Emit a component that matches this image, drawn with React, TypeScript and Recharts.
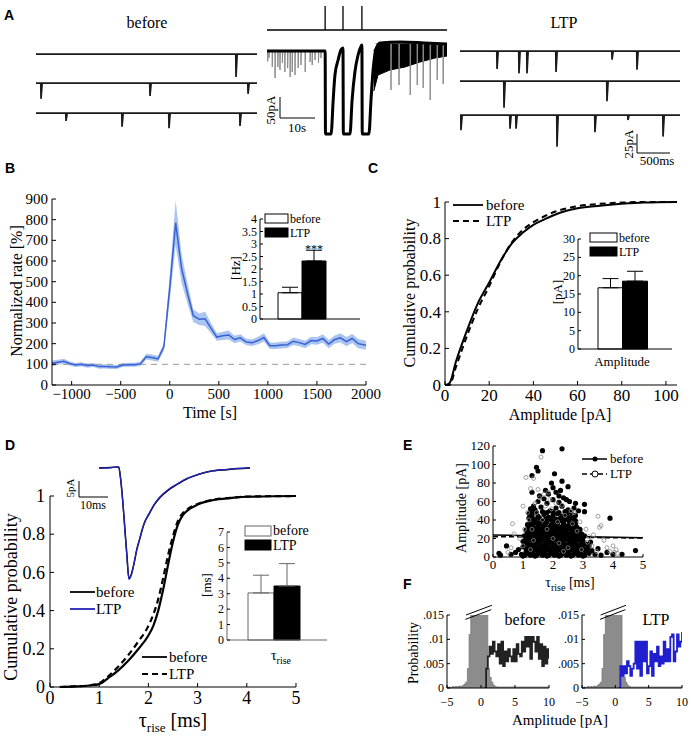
import React from "react"
import {
  LineChart,
  Line,
  Area,
  ComposedChart,
  BarChart,
  Bar,
  Cell,
  ErrorBar,
  LabelList,
  Scatter,
  XAxis,
  YAxis,
  ReferenceLine,
} from "recharts"

const SERIF = '"Liberation Serif", "Times New Roman", serif'
const SANS = '"Liberation Sans", Arial, sans-serif'

// ---------- A: example traces (events as [time ms, amplitude pA]) ----------
const ROW_MS = 3350
const beforeRow1 = [[3032, 32]]
const beforeRow2 = [[76, 22], [1728, 18], [3214, 15]]
const beforeRow3 = [[455, 11], [1304, 19], [2016, 21], [3092, 18]]
const ltpRow1 = [[564, 25], [898, 31], [1020, 31], [1462, 29], [2315, 12], [2695, 26]]
const ltpRow2 = [[670, 37], [2238, 28]]
const ltpRow3 = [[15, 21], [761, 19], [853, 19], [1477, 44], [2055, 24], [2558, 7], [3092, 30]]

// middle trace (time s, current pA)
const MID_END = 51.4
const stimTimes = [16.6, 21.7, 27.1]
const midT = [0, 16.6, 16.7, 18.3, 18.9, 19.4, 20.3, 21.1, 21.7, 21.8, 23.7, 24.3, 25.1, 26.0, 26.9, 27.1, 27.2, 29.1, 29.7, 30.3, 31.1, 32.3, 38, 45, 51.4]
const midI = [0, 0, -166, -166, -98, -48, -18, 2, 6, -166, -166, -98, -42, -8, 10, 12, -166, -166, -98, -38, 2, 16, 18, 16, 14]
const preEvents = [[0.2, 21], [0.57, 14], [1.5, 32], [2.3, 54], [3.1, 32], [3.7, 38], [4.4, 24], [5.1, 42], [5.9, 34], [6.6, 52], [7.2, 42], [8.0, 48], [8.9, 34], [9.7, 28], [10.9, 42], [12.3, 22], [12.9, 28], [13.7, 18], [14.7, 24], [15.4, 14]]
const lateEvents = [[35.4, 93], [37.7, 83], [40.9, 103], [42.9, 83], [44.6, 89], [46.6, 113], [48.6, 73], [50.3, 81]]
const denseT = [30.5, 31.7, 35.1, 39.4, 43.7, 48, 51.4]
const denseLo = [-80, -48, -38, -32, -22, -14, -10]
const denseHi = [0, 16, 18, 18, 16, 14, 14]

// ---------- B: normalized rate ----------
const bTime = [-1200, -1140, -1080, -1020, -960, -900, -840, -780, -720, -660, -600, -540, -480, -420, -360, -300, -240, -180, -120, -60, 0, 60, 120, 180, 240, 300, 360, 420, 480, 540, 600, 660, 720, 780, 840, 900, 960, 1020, 1080, 1140, 1200, 1260, 1320, 1380, 1440, 1500, 1560, 1620, 1680, 1740, 1800, 1860, 1920, 2000]
const bRate = [105, 110, 115, 104, 97, 100, 94, 97, 89, 90, 88, 87, 97, 98, 98, 102, 137, 133, 126, 185, 470, 785, 565, 445, 335, 318, 320, 275, 232, 238, 242, 220, 228, 208, 205, 215, 230, 190, 190, 193, 195, 212, 205, 196, 215, 213, 225, 198, 220, 228, 210, 225, 200, 192]
const bSem = [14, 12, 12, 10, 10, 10, 10, 10, 10, 10, 10, 10, 10, 10, 10, 10, 14, 14, 14, 18, 60, 110, 70, 50, 30, 28, 35, 25, 18, 20, 22, 18, 18, 16, 16, 18, 20, 16, 16, 16, 16, 18, 18, 18, 18, 18, 20, 20, 20, 22, 22, 22, 22, 22]
const groups = ["before", "LTP"]
const rateHz = [1.05, 2.32]
const rateErr = [0.22, 0.43]
const rateSig = ["", "***"]

// ---------- C: amplitude cumulative ----------
const cAmp = [0, 2, 5, 10, 15, 20, 25, 30, 35, 40, 45, 50, 55, 60, 70, 80, 90, 105]
const cBefore = [0, 0.01, 0.13, 0.3, 0.45, 0.56, 0.675, 0.77, 0.83, 0.875, 0.905, 0.932, 0.952, 0.966, 0.98, 0.99, 0.997, 1]
const cLtp = [0, 0, 0.1, 0.27, 0.42, 0.54, 0.67, 0.775, 0.845, 0.89, 0.922, 0.948, 0.965, 0.977, 0.99, 0.997, 1, 1]
const ampPA = [16.7, 18.5]
const ampErr = [2.5, 2.7]

// ---------- D: rise time cumulative ----------
const dTau = [0.2, 0.5, 0.8, 1.0, 1.2, 1.4, 1.6, 1.8, 2.0, 2.1, 2.2, 2.3, 2.4, 2.5, 2.6, 2.7, 2.8, 3.0, 3.3, 3.7, 4.0, 5.0]
const dBefore = [0, 0.003, 0.008, 0.015, 0.05, 0.09, 0.14, 0.2, 0.27, 0.32, 0.4, 0.51, 0.64, 0.76, 0.85, 0.9, 0.925, 0.955, 0.978, 0.99, 0.996, 1]
const dLtp = [0, 0.003, 0.009, 0.02, 0.06, 0.11, 0.17, 0.24, 0.32, 0.38, 0.46, 0.57, 0.69, 0.79, 0.87, 0.91, 0.932, 0.958, 0.98, 0.991, 0.997, 1]
const riseMs = [3.05, 3.5]
const riseErr = [1.15, 1.45]
// averaged event (ms, pA)
const evT = [0, 4, 6.8, 7.4, 8.3, 9.0, 9.6, 10.3, 11, 12, 13, 14.1, 15.5, 17.6, 19, 21, 24, 26.9, 30, 32.4, 35, 38, 44, 52]
const evBefore = [0, 0.2, 0.3, -3, -11.6, -20, -27, -34.5, -33.5, -30, -25.5, -21.9, -17.5, -13.8, -11.5, -9.2, -6.8, -5.1, -3.5, -2.6, -1.8, -1.1, -0.5, 0]
const evLtp = [0, 0.1, 0.3, -3, -11.8, -20.5, -27.5, -34.8, -33.8, -30.2, -25.6, -21.8, -17.4, -13.6, -11.3, -9.0, -6.6, -5.0, -3.4, -2.5, -1.7, -1.0, -0.4, 0.1]

// ---------- E: amplitude vs rise time ----------
const eBefore = [
  [0.2, 4], [0.25, 2], [0.6, 3], [0.75, 5], [0.95, 3], [1.05, 2], [1.15, 4], [1.25, 2], [1.35, 3], [1.45, 2], [1.55, 4], [1.65, 2], [1.75, 3], [1.85, 2], [1.95, 4], [2.05, 2], [2.15, 3], [2.25, 2], [2.35, 4], [2.45, 2], [2.55, 3], [2.65, 2], [2.75, 4], [2.85, 2], [2.95, 3], [3.05, 2], [3.2, 4], [3.4, 3], [3.6, 2], [3.8, 5], [4.0, 3], [4.3, 3], [4.75, 7],
  [1.0, 1], [1.4, 1], [1.8, 1], [2.2, 1], [2.6, 1], [3.0, 1],
  [1.1, 5], [1.3, 6], [1.5, 5], [1.7, 6], [1.9, 5], [2.1, 6], [2.3, 5], [2.5, 6], [2.7, 5], [2.9, 6], [3.1, 5],
  [0.45, 12], [0.85, 8], [1.1, 9], [1.2, 7], [1.3, 10], [1.4, 8], [1.5, 9], [1.6, 7], [1.7, 10], [1.8, 8], [1.9, 9], [2.0, 7], [2.1, 10], [2.2, 8], [2.3, 9], [2.4, 7], [2.5, 10], [2.6, 8], [2.7, 9], [2.8, 7], [2.9, 10], [3.0, 8], [3.15, 9], [3.3, 7], [3.5, 9],
  [1.0, 11], [1.2, 12], [1.4, 11], [1.6, 12], [1.8, 11], [2.0, 12], [2.2, 11], [2.4, 12], [2.6, 11], [2.8, 12], [3.0, 11], [3.2, 12],
  [1.05, 14], [1.15, 16], [1.25, 13], [1.35, 15], [1.45, 14], [1.55, 16], [1.65, 13], [1.75, 15], [1.85, 14], [1.95, 16], [2.05, 13], [2.15, 15], [2.25, 14], [2.35, 16], [2.45, 13], [2.55, 15], [2.65, 14], [2.75, 16], [2.85, 13], [2.95, 15], [3.1, 14], [3.25, 16],
  [1.0, 17], [1.2, 18], [1.4, 17], [1.6, 18], [1.8, 17], [2.0, 18], [2.2, 17], [2.4, 18], [2.6, 17], [2.8, 18], [3.0, 17],
  [1.1, 20], [1.2, 22], [1.3, 19], [1.4, 21], [1.5, 20], [1.6, 22], [1.7, 19], [1.8, 21], [1.9, 20], [2.0, 22], [2.1, 19], [2.2, 21], [2.3, 20], [2.4, 22], [2.5, 19], [2.6, 21], [2.7, 20], [2.8, 22], [2.9, 19], [3.0, 21],
  [1.05, 23], [1.25, 24], [1.45, 23], [1.65, 24], [1.85, 23], [2.05, 24], [2.25, 23], [2.45, 24], [2.65, 23], [2.85, 24], [3.05, 23],
  [1.15, 26], [1.25, 28], [1.35, 25], [1.45, 27], [1.55, 26], [1.65, 28], [1.75, 25], [1.85, 27], [1.95, 26], [2.05, 28], [2.15, 25], [2.25, 27], [2.35, 26], [2.45, 28], [2.55, 25], [2.65, 27], [2.75, 26], [2.85, 28], [2.95, 25],
  [1.1, 29], [1.3, 30], [1.5, 29], [1.7, 30], [1.9, 29], [2.1, 30], [2.3, 29], [2.5, 30], [2.7, 29], [2.9, 30],
  [1.2, 32], [1.3, 34], [1.4, 31], [1.5, 33], [1.6, 32], [1.7, 34], [1.8, 31], [1.9, 33], [2.0, 32], [2.1, 34], [2.2, 31], [2.3, 33], [2.4, 32], [2.5, 34], [2.6, 31], [2.7, 33], [2.8, 32],
  [1.15, 35], [1.35, 36], [1.55, 35], [1.75, 36], [1.95, 35], [2.15, 36], [2.35, 35], [2.55, 36], [2.75, 35],
  [1.25, 38], [1.4, 40], [1.5, 37], [1.65, 39], [1.8, 38], [1.95, 40], [2.05, 37], [2.2, 39], [2.35, 38], [2.5, 40], [2.6, 37], [2.75, 39], [3.9, 42],
  [1.2, 42], [1.35, 41], [1.55, 42], [1.75, 41], [1.9, 42], [2.1, 41], [2.25, 42], [2.4, 41], [2.55, 42], [2.7, 41],
  [1.3, 45], [1.5, 44], [1.7, 46], [1.85, 43], [2.0, 45], [2.15, 47], [2.3, 44], [2.45, 46], [2.6, 43], [2.75, 45], [1.2, 47],
  [1.3, 49], [1.45, 48], [1.65, 49], [1.8, 48], [2.0, 49], [2.2, 48], [2.4, 49], [2.6, 48],
  [1.25, 52], [1.4, 51], [1.6, 54], [1.9, 50], [2.1, 53], [2.3, 55], [2.5, 51], [2.7, 53], [2.85, 50], [3.05, 49], [1.35, 55],
  [1.5, 60], [1.8, 58], [2.0, 62], [2.2, 59], [2.35, 64], [2.55, 60], [2.75, 58], [3.05, 57], [1.7, 63], [2.45, 62],
  [1.3, 70], [1.55, 66], [1.75, 72], [1.95, 80], [2.0, 75], [2.25, 72], [2.3, 82], [2.1, 70], [2.5, 76], [1.3, 88], [1.45, 97], [1.5, 93], [1.65, 115], [2.05, 90], [2.3, 117], [2.2, 66], [1.85, 68],
]
const eLtp = [
  [0.65, 36], [0.7, 25], [0.6, 10], [0.5, 5], [1.0, 55], [1.15, 48], [1.1, 86], [1.25, 74], [1.35, 85], [1.5, 73], [1.6, 108], [1.55, 64], [1.7, 68], [1.85, 70], [1.9, 62], [2.1, 58], [2.3, 56], [2.6, 50], [2.7, 48], [2.9, 38], [3.1, 30], [3.2, 22], [3.35, 24], [3.5, 44], [3.55, 32], [3.6, 34], [3.7, 18], [3.8, 10], [3.9, 6], [4.0, 12], [4.1, 8], [4.15, 4], [4.05, 5], [3.3, 12], [3.45, 6], [1.0, 12], [0.9, 20], [1.2, 40], [1.4, 58], [1.3, 30], [2.4, 45], [2.8, 28], [1.45, 48], [1.65, 40], [1.8, 30], [2.0, 20], [2.2, 15], [2.5, 10], [1.35, 18], [1.95, 52], [2.15, 38], [2.65, 36], [1.05, 30], [2.95, 8], [3.15, 16], [1.75, 55], [1.25, 8], [2.35, 6],
]
const fitBefore = [[0, 23.8], [5, 20.8]]
const fitLtp = [[0, 22], [5, 20.5]]

// ---------- F: amplitude histograms ----------
const noiseX = [-5, -4.75, -4.5, -4.25, -4, -3.75, -3.5, -3.25, -3, -2.75, -2.5, -2.25, -2, -1.75, -1.5, -1.25, -1, -0.75, -0.5, -0.25, 0, 0.25, 0.5, 0.75, 1, 1.25, 1.5, 1.75, 2, 2.25, 2.5, 10]
const noiseP = [0.0001, 0.0002, 0.0001, 0.0003, 0.0002, 0.0003, 0.0002, 0.0004, 0.0003, 0.0005, 0.0008, 0.0012, 0.004, 0.011, 0.019, 0.03, 0.04, 0.05, 0.05, 0.05, 0.045, 0.04, 0.03, 0.02, 0.004, 0.0022, 0.0012, 0.0006, 0.0003, 0.0002, 0.0002, 0.0002]
const histX = [0.5, 0.75, 1, 1.25, 1.5, 1.75, 2, 2.25, 2.5, 2.75, 3, 3.25, 3.5, 3.75, 4, 4.25, 4.5, 4.75, 5, 5.25, 5.5, 5.75, 6, 6.25, 6.5, 6.75, 7, 7.25, 7.5, 7.75, 8, 8.25, 8.5, 8.75, 9, 9.25, 9.5, 9.75, 10]
const histBefore = [0, 0.004, 0.0065, 0.0085, 0.007, 0.0095, 0.0075, 0.0065, 0.009, 0.005, 0.0095, 0.0045, 0.0075, 0.0055, 0.008, 0.0065, 0.0055, 0.008, 0.0055, 0.009, 0.007, 0.0065, 0.0095, 0.0075, 0.0105, 0.0085, 0.0105, 0.006, 0.0105, 0.0095, 0.0075, 0.0105, 0.006, 0.009, 0.0045, 0.0085, 0.005, 0.008, 0.006]
const histLtp = [0, 0.0045, 0.0025, 0.0045, 0.003, 0.0055, 0.0045, 0.0025, 0.004, 0.005, 0.0095, 0.004, 0.0095, 0.0025, 0.0095, 0.0055, 0.0095, 0.003, 0.0045, 0.0075, 0.0025, 0.007, 0.0055, 0.0085, 0.0045, 0.0065, 0.005, 0.0095, 0.0055, 0.008, 0.0055, 0.0105, 0.011, 0.0055, 0.0075, 0.011, 0.0085, 0.0095, 0.0115]

// ---------- helpers ----------
type Frame = { style: React.CSSProperties; width: number; height: number; margin: any }

// place a chart so that its plot area is exactly x0..x1 / y0..y1 in page pixels
function frame(x0: number, x1: number, y0: number, y1: number, yw: number, xh: number, pt = 12, pr = 12): Frame {
  const left = x0 - yw
  const top = y0 - pt
  return {
    style: { position: "absolute", left, top },
    width: x1 - left + pr,
    height: y1 + xh - top,
    margin: { top: pt, right: pr, bottom: 0, left: 0 },
  }
}

function bare(x0: number, x1: number, y0: number, y1: number): Frame {
  return {
    style: { position: "absolute", left: x0, top: y0 },
    width: x1 - x0,
    height: y1 - y0,
    margin: { top: 0, right: 0, bottom: 0, left: 0 },
  }
}

const fmtNum = (v: number) => (v < 0 ? "\u2212" + Math.abs(v) : String(v))
const fmtProb = (v: number) => (v === 0 ? "0" : String(v).replace("0.", "."))

function xTick(fs: number, gap: number, fmt = fmtNum, len = 4) {
  return (p: any) => (
    <g>
      <line x1={p.x} x2={p.x} y1={p.y - gap} y2={p.y - gap - len} stroke="#000" />
      <text x={p.x} y={p.y} dy={fs * 0.75} textAnchor="middle" fontSize={fs} fontFamily={SERIF} fill="#000">
        {fmt(p.payload.value)}
      </text>
    </g>
  )
}

function yTick(fs: number, gap: number, fmt = fmtNum, len = 4) {
  return (p: any) => (
    <g>
      <line x1={p.x + gap} x2={p.x + gap + len} y1={p.y} y2={p.y} stroke="#000" />
      <text x={p.x} y={p.y} dy={fs * 0.34} textAnchor="end" fontSize={fs} fontFamily={SERIF} fill="#000">
        {fmt(p.payload.value)}
      </text>
    </g>
  )
}

function spikes(events: number[][], start: number, end: number, fall: number, decay: number, base = 0) {
  const pts = [{ t: start, v: base }]
  for (const [t, a] of events) pts.push({ t: t - fall, v: base }, { t, v: base - a }, { t: t + decay, v: base })
  pts.push({ t: end, v: base })
  return pts
}

function TraceRow({ x0, x1, yb, events }: { x0: number; x1: number; yb: number; events: number[][] }) {
  const f = bare(x0, x1, yb - 5, yb + 36)
  return (
    <div style={f.style}>
      <LineChart width={f.width} height={f.height} margin={f.margin} data={spikes(events, 0, ROW_MS, 4, 18)}>
        <XAxis hide type="number" dataKey="t" domain={[0, ROW_MS]} />
        <YAxis hide domain={[-50, 7]} allowDataOverflow />
        <Line dataKey="v" type="linear" stroke="#1a1a1a" strokeWidth={1.7} dot={false} isAnimationActive={false} />
      </LineChart>
    </div>
  )
}

const starLabel = (p: any) =>
  p.value ? (
    <text x={p.x + p.width / 2} y={p.y - 8} textAnchor="middle" fontSize={12} fontFamily={SERIF} fill="#000">
      {p.value}
    </text>
  ) : null

function GroupBars(props: {
  fr: Frame
  vals: number[]
  errs: number[]
  max: number
  ticks: number[]
  yw: number
  pad: { left: number; right: number }
  edge: string
  sig?: string[]
}) {
  const { fr, vals, errs, max, ticks, yw, pad, edge, sig } = props
  const data = groups.map((g, i) => ({ name: g, v: vals[i], err: [0, errs[i]], sig: sig ? sig[i] : "" }))
  return (
    <div style={fr.style}>
      <BarChart width={fr.width} height={fr.height} margin={fr.margin} data={data} barCategoryGap={0}>
        <XAxis dataKey="name" tick={false} tickLine={false} axisLine={{ stroke: edge }} height={8} padding={pad} />
        <YAxis
          domain={[0, max]}
          ticks={ticks}
          interval={0}
          width={yw}
          tickSize={0}
          tickMargin={3}
          tick={yTick(12, 3, (v) => String(v), 3)}
          axisLine={{ stroke: edge }}
        />
        <Bar dataKey="v" stroke={edge} strokeWidth={1} isAnimationActive={false}>
          {data.map((d, i) => (
            <Cell key={d.name} fill={i === 0 ? "#fff" : "#000"} stroke={i === 0 ? edge : "#000"} />
          ))}
          <ErrorBar dataKey="err" width={8} stroke={edge} strokeWidth={1} direction="y" />
          {sig && <LabelList dataKey="sig" content={starLabel} />}
        </Bar>
      </BarChart>
    </div>
  )
}

function Hist({ x0, x1, steps, color }: { x0: number; x1: number; steps: number[]; color: string }) {
  const f = frame(x0, x1, 615, 688, 30, 24, 10, 10)
  const noise = noiseX.map((x, i) => ({ x, p: noiseP[i] }))
  const line = histX.map((x, i) => ({ x, p: steps[i] }))
  return (
    <div style={f.style}>
      <ComposedChart width={f.width} height={f.height} margin={f.margin} data={noise}>
        <XAxis
          type="number"
          dataKey="x"
          domain={[-5, 10]}
          ticks={[-5, 0, 5, 10]}
          interval={0}
          allowDataOverflow
          height={24}
          tickSize={0}
          tickMargin={9}
          tick={xTick(12, 9, fmtNum, 3)}
          axisLine={{ stroke: "#000" }}
        />
        <YAxis
          domain={[0, 0.015]}
          ticks={[0, 0.005, 0.01, 0.015]}
          interval={0}
          allowDataOverflow
          width={30}
          tickSize={0}
          tickMargin={3}
          tick={yTick(12, 3, fmtProb, 3)}
          axisLine={{ stroke: "#000" }}
        />
        <Area dataKey="p" type="stepAfter" fill="#8c8c8c" fillOpacity={1} stroke="#777" strokeWidth={0.8} isAnimationActive={false} />
        <Line data={line} dataKey="p" type="stepAfter" stroke={color} strokeWidth={1.8} dot={false} isAnimationActive={false} />
        <ReferenceLine segment={[{ x: -2.3, y: 0.0141 }, { x: 1.5, y: 0.0161 }]} stroke="#000" ifOverflow="visible" />
        <ReferenceLine segment={[{ x: -2.2, y: 0.0150 }, { x: 1.6, y: 0.0170 }]} stroke="#000" ifOverflow="visible" />
      </ComposedChart>
    </div>
  )
}

export default function App() {
  // B
  const bTable = bTime.map((t, i) => ({ t, rate: bRate[i], band: [bRate[i] - bSem[i], bRate[i] + bSem[i]] }))
  const fB = frame(52, 366, 199, 385, 40, 26, 12, 22)
  // C
  const cTable = cAmp.map((a, i) => ({ a, before: cBefore[i], ltp: cLtp[i] }))
  const fC = frame(445, 677, 202, 385, 40, 26)
  // D
  const dTable = dTau.map((t, i) => ({ t, before: dBefore[i], ltp: dLtp[i] }))
  const fD = frame(50, 296, 496, 687, 42, 28, 14, 14)
  const evTable = evT.map((t, i) => ({ t, before: evBefore[i], ltp: evLtp[i] }))
  const fEv = bare(99, 250, 462, 582)
  // E
  const fE = frame(493, 643, 446, 557, 30, 18, 10, 10)
  const toPts = (arr: number[][]) => arr.map(([t, a]) => ({ t, a }))
  // A middle
  const fStim = bare(267, 447, 5, 31)
  const stimData = spikes(stimTimes.map((t) => [t, -1]), 0, MID_END, 0, 0)
  const fMid = bare(267, 447, 38, 136)
  const midLine = midT.map((t, i) => ({ t, v: midI[i] }))
  const denseTable = denseT.map((t, i) => ({ t, band: [denseLo[i], denseHi[i]] }))

  const axis = { stroke: "#000" }

  return (
    <div style={{ position: "absolute", left: 0, top: 0, width: 691, height: 737, background: "#fff", overflow: "hidden" }}>
      {/* ---------- A ---------- */}
      <TraceRow x0={36} x1={257} yb={54} events={beforeRow1} />
      <TraceRow x0={36} x1={257} yb={83} events={beforeRow2} />
      <TraceRow x0={36} x1={257} yb={113} events={beforeRow3} />
      <TraceRow x0={460} x1={680} yb={51} events={ltpRow1} />
      <TraceRow x0={460} x1={680} yb={81} events={ltpRow2} />
      <TraceRow x0={460} x1={680} yb={115} events={ltpRow3} />

      <div style={fStim.style}>
        <LineChart width={fStim.width} height={fStim.height} margin={{ top: 1, right: 0, bottom: 1, left: 0 }} data={stimData}>
          <XAxis hide type="number" dataKey="t" domain={[0, MID_END]} />
          <YAxis hide domain={[0, 1]} />
          <Line dataKey="v" type="linear" stroke="#000" strokeWidth={1.3} dot={false} isAnimationActive={false} />
        </LineChart>
      </div>

      <div style={fMid.style}>
        <ComposedChart width={fMid.width} height={fMid.height} margin={fMid.margin} data={denseTable}>
          <XAxis hide type="number" dataKey="t" domain={[0, MID_END]} />
          <YAxis hide domain={[-170, 26]} allowDataOverflow />
          <Line data={spikes(preEvents, 0, 16.5, 0.05, 0.12)} dataKey="v" type="linear" stroke="#8a8a8a" strokeWidth={1} dot={false} isAnimationActive={false} />
          <Line data={spikes(lateEvents, 31, MID_END, 0.05, 0.12, 15)} dataKey="v" type="linear" stroke="#8a8a8a" strokeWidth={1} dot={false} isAnimationActive={false} />
          <Area dataKey="band" type="linear" fill="#000" fillOpacity={1} stroke="#000" strokeWidth={1} isAnimationActive={false} />
          <Line data={midLine} dataKey="v" type="monotone" stroke="#000" strokeWidth={3} dot={false} isAnimationActive={false} />
        </ComposedChart>
      </div>

      {/* ---------- B ---------- */}
      <div style={fB.style}>
        <ComposedChart width={fB.width} height={fB.height} margin={fB.margin} data={bTable}>
          <XAxis
            type="number"
            dataKey="t"
            domain={[-1200, 2000]}
            ticks={[-1000, -500, 0, 500, 1000, 1500, 2000]}
            interval={0}
            height={26}
            tickSize={0}
            tickMargin={3}
            tick={xTick(15, 3)}
            axisLine={axis}
          />
          <YAxis
            domain={[0, 900]}
            ticks={[0, 100, 200, 300, 400, 500, 600, 700, 800, 900]}
            interval={0}
            width={40}
            tickSize={0}
            tickMargin={4}
            tick={yTick(15, 4)}
            axisLine={axis}
          />
          <ReferenceLine y={100} stroke="#999" strokeDasharray="6 5" />
          <Area dataKey="band" type="linear" fill="#a9c5f0" fillOpacity={1} stroke="none" isAnimationActive={false} />
          <Line dataKey="rate" type="linear" stroke="#3a5fd6" strokeWidth={1.5} dot={false} isAnimationActive={false} />
        </ComposedChart>
      </div>
      <GroupBars
        fr={frame(260, 360, 219, 319, 26, 8, 8, 4)}
        vals={rateHz}
        errs={rateErr}
        max={4}
        ticks={[0, 0.5, 1, 1.5, 2, 2.5, 3, 3.5, 4]}
        yw={26}
        pad={{ left: 18, right: 34 }}
        edge="#000"
        sig={rateSig}
      />

      {/* ---------- C ---------- */}
      <div style={fC.style}>
        <LineChart width={fC.width} height={fC.height} margin={fC.margin} data={cTable}>
          <XAxis
            type="number"
            dataKey="a"
            domain={[0, 105]}
            ticks={[0, 20, 40, 60, 80, 100]}
            interval={0}
            height={26}
            tickSize={0}
            tickMargin={3}
            tick={xTick(17, 3)}
            axisLine={axis}
          />
          <YAxis
            domain={[0, 1]}
            ticks={[0, 0.2, 0.4, 0.6, 0.8, 1]}
            interval={0}
            width={40}
            tickSize={0}
            tickMargin={4}
            tick={yTick(17, 4)}
            axisLine={axis}
          />
          <Line dataKey="before" type="monotone" stroke="#000" strokeWidth={2} dot={false} isAnimationActive={false} />
          <Line dataKey="ltp" type="monotone" stroke="#000" strokeWidth={2} strokeDasharray="6 4" dot={false} isAnimationActive={false} />
        </LineChart>
      </div>
      <GroupBars
        fr={frame(578, 672, 239, 349, 24, 8, 8, 4)}
        vals={ampPA}
        errs={ampErr}
        max={30}
        ticks={[0, 5, 10, 15, 20, 25, 30]}
        yw={24}
        pad={{ left: 20, right: 25 }}
        edge="#000"
      />

      {/* ---------- D ---------- */}
      <div style={fD.style}>
        <LineChart width={fD.width} height={fD.height} margin={fD.margin} data={dTable}>
          <XAxis
            type="number"
            dataKey="t"
            domain={[0, 5]}
            ticks={[0, 1, 2, 3, 4, 5]}
            interval={0}
            height={28}
            tickSize={0}
            tickMargin={3}
            tick={xTick(18, 3)}
            axisLine={axis}
          />
          <YAxis
            domain={[0, 1]}
            ticks={[0, 0.2, 0.4, 0.6, 0.8, 1]}
            interval={0}
            width={42}
            tickSize={0}
            tickMargin={5}
            tick={yTick(18, 5)}
            axisLine={axis}
          />
          <Line dataKey="before" type="monotone" stroke="#000" strokeWidth={2.2} dot={false} isAnimationActive={false} />
          <Line dataKey="ltp" type="monotone" stroke="#000" strokeWidth={2.2} strokeDasharray="6 4" dot={false} isAnimationActive={false} />
        </LineChart>
      </div>
      <div style={fEv.style}>
        <LineChart width={fEv.width} height={fEv.height} margin={fEv.margin} data={evTable}>
          <XAxis hide type="number" dataKey="t" domain={[0, 52]} />
          <YAxis hide domain={[-35.6, 1.9]} />
          <Line dataKey="before" type="monotone" stroke="#000" strokeWidth={1.5} dot={false} isAnimationActive={false} />
          <Line dataKey="ltp" type="monotone" stroke="#2323b4" strokeWidth={1.3} dot={false} isAnimationActive={false} />
        </LineChart>
      </div>
      <GroupBars
        fr={frame(227, 327, 532, 640, 18, 8, 8, 4)}
        vals={riseMs}
        errs={riseErr}
        max={7}
        ticks={[0, 1, 2, 3, 4, 5, 6, 7]}
        yw={18}
        pad={{ left: 21, right: 27 }}
        edge="#666"
      />

      {/* ---------- E ---------- */}
      <div style={fE.style}>
        <ComposedChart width={fE.width} height={fE.height} margin={fE.margin}>
          <XAxis
            type="number"
            dataKey="t"
            domain={[0, 5]}
            ticks={[0, 1, 2, 3, 4, 5]}
            interval={0}
            height={18}
            tickSize={0}
            tickMargin={2}
            tick={xTick(13, 2, fmtNum, 3)}
            axisLine={axis}
          />
          <YAxis
            type="number"
            dataKey="a"
            domain={[0, 120]}
            ticks={[0, 20, 40, 60, 80, 100, 120]}
            interval={0}
            width={30}
            tickSize={0}
            tickMargin={3}
            tick={yTick(13, 3, fmtNum, 3)}
            axisLine={axis}
          />
          <Scatter
            data={toPts(eBefore)}
            isAnimationActive={false}
            shape={(p: any) => <circle cx={p.cx} cy={p.cy} r={2.6} fill="#000" />}
          />
          <Scatter
            data={toPts(eLtp)}
            isAnimationActive={false}
            shape={(p: any) => <circle cx={p.cx} cy={p.cy} r={2} fill="none" stroke="#8a8a8a" strokeWidth={0.8} />}
          />
          <Line data={toPts(fitBefore)} dataKey="a" type="linear" stroke="#000" strokeWidth={1.5} dot={false} isAnimationActive={false} />
          <Line data={toPts(fitLtp)} dataKey="a" type="linear" stroke="#000" strokeWidth={1.5} strokeDasharray="5 3" dot={false} isAnimationActive={false} />
        </ComposedChart>
      </div>

      {/* ---------- F ---------- */}
      <Hist x0={447} x1={549} steps={histBefore} color="#222" />
      <Hist x0={582} x1={682} steps={histLtp} color="#1f1fd0" />

      {/* ---------- text, legends, scale bars ---------- */}
      <svg width={691} height={737} style={{ position: "absolute", left: 0, top: 0, pointerEvents: "none" }}>
        <g fontFamily={SANS} fontWeight="bold" fontSize={14} fill="#000">
          <text x={4} y={20}>A</text>
          <text x={5} y={173}>B</text>
          <text x={368} y={173}>C</text>
          <text x={5} y={450}>D</text>
          <text x={403} y={450}>E</text>
          <text x={403} y={589}>F</text>
        </g>
        <g fontFamily={SERIF} fill="#000">
          {/* A */}
          <text x={147} y={28} fontSize={16} textAnchor="middle">before</text>
          <text x={564} y={28} fontSize={16} textAnchor="middle">LTP</text>
          <path d="M280 97 V118 H315" fill="none" stroke="#000" strokeWidth={1} />
          <text x={0} y={0} fontSize={13} textAnchor="middle" transform="translate(275 110) rotate(-90)">50pA</text>
          <text x={297} y={132} fontSize={13} textAnchor="middle">10s</text>
          <path d="M637 134 V153 H670" fill="none" stroke="#000" strokeWidth={1} />
          <text x={0} y={0} fontSize={13} textAnchor="middle" transform="translate(633 144) rotate(-90)">25pA</text>
          <text x={657} y={165} fontSize={13} textAnchor="middle">500ms</text>

          {/* B */}
          <text x={0} y={0} fontSize={16} textAnchor="middle" transform="translate(22 291) rotate(-90)">Normalized rate [%]</text>
          <text x={210} y={418} fontSize={16} textAnchor="middle">Time [s]</text>
          <text x={0} y={0} fontSize={13} textAnchor="middle" transform="translate(240 268) rotate(-90)">[Hz]</text>
          <rect x={265} y={214} width={23} height={9} fill="#fff" stroke="#000" />
          <text x={290} y={223} fontSize={12}>before</text>
          <rect x={265} y={228} width={23} height={9} fill="#000" stroke="#000" />
          <text x={290} y={237} fontSize={12}>LTP</text>

          {/* C */}
          <text x={0} y={0} fontSize={16} textAnchor="middle" transform="translate(415 293) rotate(-90)">Cumulative probability</text>
          <text x={560} y={420} fontSize={16} textAnchor="middle">Amplitude [pA]</text>
          <line x1={453} x2={483} y1={205} y2={205} stroke="#000" strokeWidth={1.8} />
          <text x={486} y={210} fontSize={15}>before</text>
          <line x1={453} x2={483} y1={221} y2={221} stroke="#000" strokeWidth={1.8} strokeDasharray="6 4" />
          <text x={486} y={226} fontSize={15}>LTP</text>
          <text x={0} y={0} fontSize={13} textAnchor="middle" transform="translate(562 292) rotate(-90)">[pA]</text>
          <rect x={590} y={233} width={27} height={9} fill="#fff" stroke="#000" />
          <text x={619} y={242} fontSize={12}>before</text>
          <rect x={590} y={247} width={27} height={9} fill="#000" stroke="#000" />
          <text x={619} y={256} fontSize={12}>LTP</text>
          <text x={622} y={366} fontSize={13} textAnchor="middle">Amplitude</text>

          {/* D */}
          <text x={0} y={0} fontSize={18} textAnchor="middle" transform="translate(17 597) rotate(-90)">Cumulative probability</text>
          <text x={173} y={727} fontSize={20} textAnchor="middle">
            τ<tspan fontSize={13} dy={5}>rise</tspan>
            <tspan dy={-5}> [ms]</tspan>
          </text>
          <path d="M79 481 V497 H108" fill="none" stroke="#000" strokeWidth={1} />
          <text x={0} y={0} fontSize={11} textAnchor="middle" transform="translate(74 488) rotate(-90)">5pA</text>
          <text x={93} y={509} fontSize={12} textAnchor="middle">10ms</text>
          <line x1={70} x2={95} y1={592} y2={592} stroke="#000" strokeWidth={1.8} />
          <text x={96} y={597} fontSize={15}>before</text>
          <line x1={70} x2={95} y1={609} y2={609} stroke="#2323b4" strokeWidth={1.8} />
          <text x={96} y={614} fontSize={15}>LTP</text>
          <line x1={142} x2={167} y1={657} y2={657} stroke="#000" strokeWidth={1.8} />
          <text x={169} y={662} fontSize={15}>before</text>
          <line x1={142} x2={167} y1={674} y2={674} stroke="#000" strokeWidth={1.8} strokeDasharray="6 4" />
          <text x={169} y={679} fontSize={15}>LTP</text>
          <text x={0} y={0} fontSize={13} textAnchor="middle" transform="translate(211 585) rotate(-90)">[ms]</text>
          <rect x={245} y={526} width={26} height={10} fill="#fff" stroke="#666" />
          <text x={273} y={535} fontSize={14}>before</text>
          <rect x={245} y={540} width={26} height={10} fill="#000" stroke="#000" />
          <text x={273} y={550} fontSize={14}>LTP</text>
          <text x={281} y={660} fontSize={14} textAnchor="middle">
            τ<tspan fontSize={10} dy={4}>rise</tspan>
          </text>

          {/* E */}
          <text x={0} y={0} fontSize={14} textAnchor="middle" transform="translate(466 508) rotate(-90)">Amplitude [pA]</text>
          <text x={570} y={587} fontSize={14} textAnchor="middle">
            τ<tspan fontSize={10} dy={4}>rise</tspan>
            <tspan dy={-4}> [ms]</tspan>
          </text>
          <line x1={582} x2={607} y1={459} y2={459} stroke="#000" strokeWidth={1.5} />
          <circle cx={595} cy={459} r={2.5} fill="#000" />
          <text x={610} y={463} fontSize={13}>before</text>
          <line x1={582} x2={607} y1={474} y2={474} stroke="#000" strokeWidth={1.5} strokeDasharray="5 3" />
          <circle cx={595} cy={474} r={3} fill="#fff" stroke="#000" />
          <text x={610} y={478} fontSize={13}>LTP</text>

          {/* F */}
          <text x={0} y={0} fontSize={14} textAnchor="middle" transform="translate(418 653) rotate(-90)">Probability</text>
          <text x={560} y={725} fontSize={15} textAnchor="middle">Amplitude [pA]</text>
          <text x={525} y={625} fontSize={16} textAnchor="middle">before</text>
          <text x={656} y={625} fontSize={16} textAnchor="middle">LTP</text>
        </g>
      </svg>
    </div>
  )
}
